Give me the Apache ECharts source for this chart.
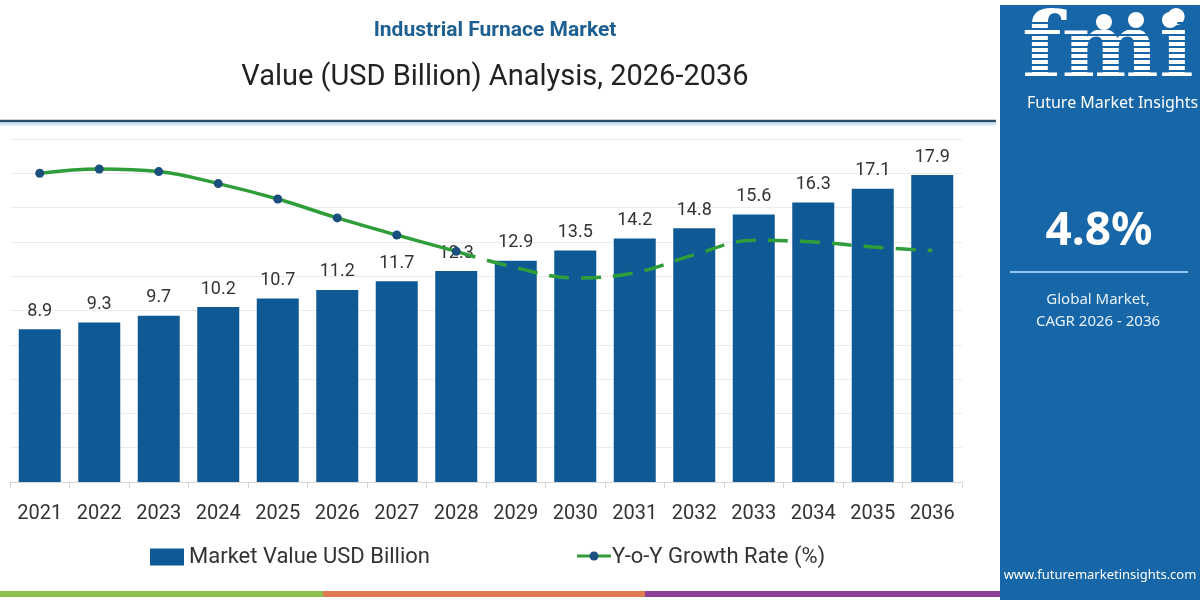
<!DOCTYPE html>
<html>
<head>
<meta charset="utf-8">
<script src="https://cdn.jsdelivr.net/npm/echarts@6/dist/echarts.min.js"></script>
<style>
  html, body { margin: 0; padding: 0; background: #fff; }
  #main { width: 1200px; height: 600px; }
</style>
</head>
<body>
<div id="main"></div>
<script type="text/javascript">
// chart data
var years = ['2021', '2022', '2023', '2024', '2025', '2026', '2027', '2028',
             '2029', '2030', '2031', '2032', '2033', '2034', '2035', '2036'];
var marketValue = [8.9, 9.3, 9.7, 10.2, 10.7, 11.2, 11.7, 12.3,
                   12.9, 13.5, 14.2, 14.8, 15.6, 16.3, 17.1, 17.9];
var yoyGrowth = [5.60, 5.65, 5.62, 5.48, 5.30, 5.08, 4.88, 4.69,
                 4.50, 4.38, 4.44, 4.65, 4.82, 4.80, 4.74, 4.70];
var lastActual = 7; // index of 2028, solid line ends here, dashed goes on

var solidPart = yoyGrowth.map(function (v, i) { return i <= lastActual ? v : null; });
var dashedPart = yoyGrowth.map(function (v, i) { return i >= lastActual ? v : null; });

var barColor = '#0f5a94';
var lineColor = '#2f9e3a';
var panelColor = '#1766a8';

// logo stripes
var stripes = [];
for (var s = 0; s < 12; s++) {
    stripes.push({
        type: 'rect', silent: true, z: 12,
        shape: { x: 1022, y: 22 + s * 6, width: 180, height: 2 },
        style: { fill: panelColor }
    });
}

var myChart = echarts.init(document.getElementById('main'));
var option = {
    backgroundColor: '#fff',
    animation: false,
    title: [
        {
            text: 'Industrial Furnace Market',
            left: 490, top: 15, textAlign: 'center',
            textStyle: { fontFamily: 'Roboto', fontSize: 21, fontWeight: 'bold', color: '#1d5f91' }
        },
        {
            text: 'Value (USD Billion) Analysis, 2026-2036',
            left: 490, top: 58, textAlign: 'center',
            textStyle: { fontFamily: 'Roboto', fontSize: 29, fontWeight: 'normal', color: '#222' }
        }
    ],
    legend: {
        left: 150, top: 546, padding: 0,
        icon: 'rect',
        itemWidth: 34, itemHeight: 17, itemGap: 143,
        data: ['Market Value USD Billion',
               { name: 'Y-o-Y Growth Rate (%)', itemStyle: { color: 'rgba(0,0,0,0)' } }],
        textStyle: { fontFamily: 'Roboto', fontSize: 22, color: '#333' }
    },
    grid: { left: 10, right: 238, top: 139, bottom: 118 },
    xAxis: {
        type: 'category',
        data: years,
        axisLine: { lineStyle: { color: '#d6d6d6' } },
        axisTick: { show: true, length: 6, lineStyle: { color: '#d6d6d6' } },
        axisLabel: { fontFamily: 'Roboto', fontSize: 20, color: '#333', margin: 22 }
    },
    yAxis: [
        {
            type: 'value', min: 0, max: 20, interval: 2,
            axisLabel: { show: false },
            axisLine: { show: false }, axisTick: { show: false },
            splitLine: { lineStyle: { color: '#ececec' } }
        },
        {
            type: 'value', min: 2, max: 6, show: false,
            splitLine: { show: false }
        }
    ],
    series: [
        {
            name: 'Market Value USD Billion',
            type: 'bar',
            data: marketValue,
            barWidth: 42,
            itemStyle: { color: barColor },
            label: {
                show: true, position: 'top', distance: 9,
                fontFamily: 'Roboto', fontSize: 18, color: '#333'
            }
        },
        {
            name: 'Y-o-Y Growth Rate (%)',
            type: 'line',
            yAxisIndex: 1,
            data: solidPart,
            smooth: 0.4,
            symbol: 'circle', symbolSize: 9,
            lineStyle: { color: lineColor, width: 3.5 },
            itemStyle: { color: '#1a4f7e' },
            z: 5
        },
        {
            name: 'growth-forecast',
            type: 'line',
            yAxisIndex: 1,
            data: dashedPart,
            smooth: 0.4,
            showSymbol: false,
            lineStyle: { color: lineColor, width: 3.5, type: [20, 12] },
            itemStyle: { color: lineColor },
            z: 5
        }
    ],
    graphic: [
        // divider under title
        { type: 'line', silent: true, shape: { x1: 0, y1: 124, x2: 996, y2: 124 },
          style: { stroke: '#cfe7f6', lineWidth: 3 } },
        { type: 'line', silent: true, shape: { x1: 0, y1: 121, x2: 996, y2: 121 },
          style: { stroke: '#2d4c68', lineWidth: 2.5 } },
        // legend line icon: green line with dark marker
        { type: 'line', silent: true, z: 20, shape: { x1: 577, y1: 556, x2: 611, y2: 556 },
          style: { stroke: lineColor, lineWidth: 3 } },
        { type: 'circle', silent: true, z: 21, shape: { cx: 594, cy: 556, r: 4.5 },
          style: { fill: '#1a4f7e' } },
        // bottom colour stripe
        { type: 'rect', silent: true, shape: { x: 0, y: 591, width: 323, height: 6 }, style: { fill: '#8cc152' } },
        { type: 'rect', silent: true, shape: { x: 323, y: 591, width: 322, height: 6 }, style: { fill: '#e07b4f' } },
        { type: 'rect', silent: true, shape: { x: 645, y: 591, width: 355, height: 6 }, style: { fill: '#8e3f9a' } },
        // right panel
        { type: 'rect', silent: true, z: 10, shape: { x: 1000, y: 5, width: 200, height: 595 }, style: { fill: panelColor } },
        { type: 'text', silent: true, z: 11, x: 1022, y: 8,
          style: { text: 'fmi', fill: '#fff', font: 'bold 92px "DejaVu Serif"' } },
        { type: 'circle', silent: true, z: 13, shape: { cx: 1104, cy: 22, r: 8 }, style: { fill: '#fff' } },
        { type: 'circle', silent: true, z: 13, shape: { cx: 1136, cy: 20, r: 8 }, style: { fill: '#fff' } },
        { type: 'circle', silent: true, z: 13, shape: { cx: 1170, cy: 20, r: 8 }, style: { fill: '#fff' } },
        { type: 'text', silent: true, z: 13, x: 1027, y: 95,
          style: { text: 'Future Market Insights', fill: '#fff', font: '16px "Noto Sans"' } },
        { type: 'text', silent: true, z: 13, x: 1099, y: 232,
          style: { text: '4.8%', fill: '#fff', font: 'bold 46px "Noto Sans"', textAlign: 'center', textVerticalAlign: 'middle' } },
        { type: 'line', silent: true, z: 13, shape: { x1: 1010, y1: 272, x2: 1188, y2: 272 },
          style: { stroke: '#8ec8f0', lineWidth: 2 } },
        { type: 'text', silent: true, z: 13, x: 1098, y: 300,
          style: { text: 'Global Market,', fill: '#e6f1fa', font: '15px "Noto Sans"', textAlign: 'center', textVerticalAlign: 'middle' } },
        { type: 'text', silent: true, z: 13, x: 1098, y: 322,
          style: { text: 'CAGR 2026 - 2036', fill: '#e6f1fa', font: '15px "Noto Sans"', textAlign: 'center', textVerticalAlign: 'middle' } },
        { type: 'text', silent: true, z: 13, x: 1100, y: 575,
          style: { text: 'www.futuremarketinsights.com', fill: '#fff', font: '13px "Noto Sans"', textAlign: 'center', textVerticalAlign: 'middle' } }
    ].concat(stripes)
};

myChart.setOption(option);
</script>
</body>
</html>
